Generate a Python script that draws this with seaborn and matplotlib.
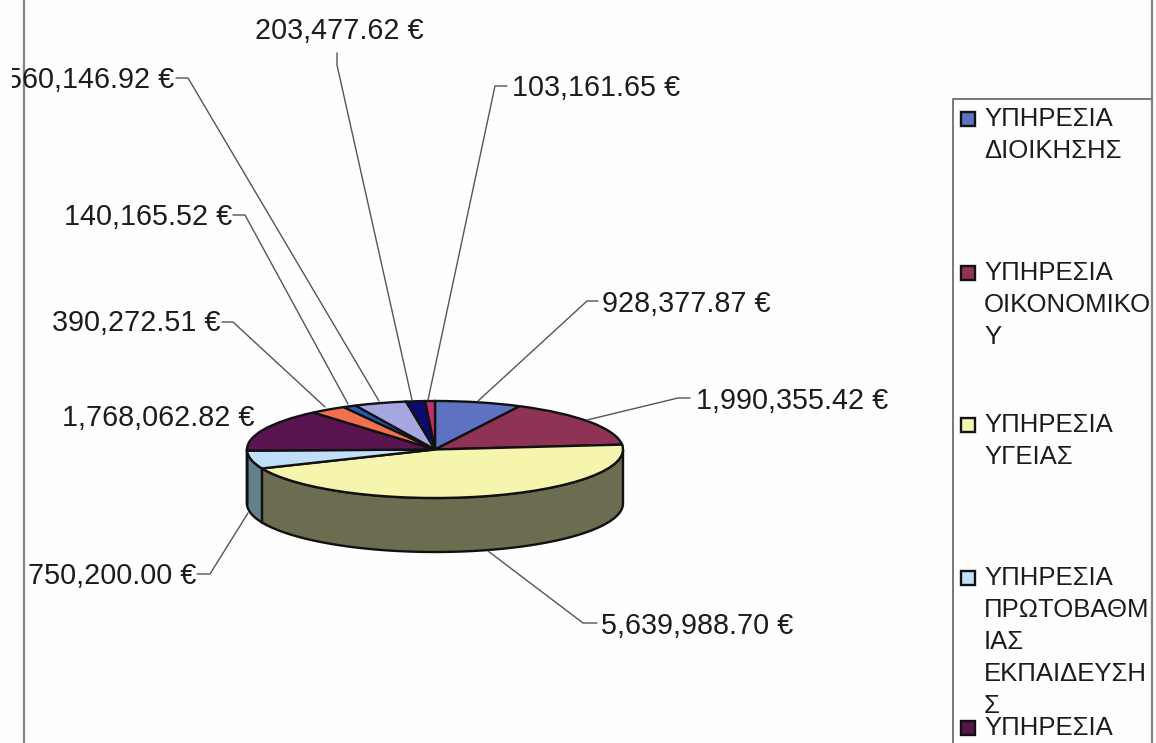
import numpy as np
import matplotlib
matplotlib.use("Agg")
import matplotlib.pyplot as plt
import seaborn as sns
from matplotlib.patches import Rectangle
from matplotlib.transforms import Bbox

# Values, clockwise from 12 o'clock
values = [928377.87, 1990355.42, 5639988.70, 750200.00, 1768062.82,
          390272.51, 140165.52, 560146.92, 203477.62, 103161.65]
top_colors = ["#5F72C2", "#8E3355", "#F5F5AE", "#C0E0FA", "#5A1550",
              "#F07050", "#1F5FB5", "#A6A6E0", "#0B0B6E", "#C0306E"]
side_colors = ["#2F3961", "#47192A", "#6C6C50", "#64808E", "#2D0A28",
               "#783828", "#102F5A", "#535370", "#050537", "#601837"]

legend_labels = ["ΥΠΗΡΕΣΙΑ\nΔΙΟΙΚΗΣΗΣ",
                 "ΥΠΗΡΕΣΙΑ\nΟΙΚΟΝΟΜΙΚΟ\nΥ",
                 "ΥΠΗΡΕΣΙΑ\nΥΓΕΙΑΣ",
                 "ΥΠΗΡΕΣΙΑ\nΠΡΩΤΟΒΑΘΜ\nΙΑΣ\nΕΚΠΑΙΔΕΥΣΗ\nΣ",
                 "ΥΠΗΡΕΣΙΑ"]
legend_colors = top_colors[:5]
legend_y = [120, 274, 426, 579, 729]

# Layout in pixels of the 1156x743 picture
W, H = 1156, 743
cx, cy, rx, ry, depth = 435, 449.5, 188, 48.5, 54

# text anchor, horizontal alignment and leader polyline per slice
label_pos = [(602, 304, "left"), (696, 401, "left"), (601, 626, "left"),
             (196, 576, "right"), (254, 418, "right"), (221, 323, "right"),
             (232, 217, "right"), (174, 80, "right"), (339, 31, "center"),
             (512, 88, "left")]
leaders = [[(598, 301), (587, 301), (478, 401)],
           [(690, 398), (678, 398), (587, 420)],
           [(597, 623), (583, 623), (488, 551)],
           [(197, 574), (210, 574), (248, 513)],
           None,
           [(222, 322), (233, 322), (325, 407)],
           [(233, 215), (245, 215), (348, 404)],
           [(176, 78), (188, 78), (379, 401)],
           [(337, 53), (337, 65), (412, 400)],
           [(507, 86), (495, 86), (428, 400)]]

sns.set_theme(style="white")
plt.rcParams["font.family"] = ["Liberation Sans", "DejaVu Sans"]
ink = "#1c1c1e"

fig = plt.figure(figsize=(W / 100, H / 100), dpi=100, facecolor="#FDFEFD")
ax = fig.add_axes([0, 0, 1, 1])
wedges, _ = ax.pie(values, colors=top_colors, startangle=90, counterclock=False,
                   wedgeprops={"edgecolor": "#111111", "linewidth": 1.7, "zorder": 5})
# flatten the unit circle to the ellipse of the tilted pie
ax.set_aspect("auto")
ax.set_xlim(-cx / rx, (W - cx) / rx)
ax.set_ylim((cy - H) / ry, cy / ry)

# side wall of the disc, front half only
drop = depth / ry
for wedge, side in zip(wedges, side_colors):
    a = max(wedge.theta1, -180)
    b = min(wedge.theta2, 0)
    if a >= b:
        continue
    t = np.radians(np.linspace(a, b, 80))
    xs = np.r_[np.cos(t), np.cos(t[::-1])]
    ys = np.r_[np.sin(t), np.sin(t[::-1]) - drop]
    ax.fill(xs, ys, facecolor=side, edgecolor="#111111", linewidth=1.7, zorder=3)

# overlay in pixel coordinates for the labels, leaders and legend
ov = fig.add_axes([0, 0, 1, 1], facecolor="none")
ov.set_xlim(0, W)
ov.set_ylim(H, 0)
ov.axis("off")

for val, (x, y, ha), pts in zip(values, label_pos, leaders):
    t = ov.text(x, y, f"{val:,.2f} €", fontsize=20.7, ha=ha, va="center", color=ink)
    t.set_clip_on(True)
    t.set_clip_box(Bbox([[12, 0], [W, H]]))
    if pts:
        ov.plot(*zip(*pts), color="#555555", lw=1.0, zorder=6)

# chart frame and legend box, both run off the bottom of the scan
ov.plot([23.5, 23.5], [0, H], color="#85858C", lw=1.7)
ov.plot([1152, 1152], [0, H], color="#85858C", lw=1.7)
ov.plot([953, 953, 1152], [H, 99, 99], color="#77777F", lw=1.4)

for label, color, y in zip(legend_labels, legend_colors, legend_y):
    ov.add_patch(Rectangle((961, y - 8), 14, 14, facecolor=color,
                           edgecolor="#111111", lw=1.7))
    ov.text(984, y - 13, label, fontsize=18.5, ha="left", va="top",
            linespacing=1.42, color=ink)

fig.savefig("out.png", dpi=100, facecolor=fig.get_facecolor())
